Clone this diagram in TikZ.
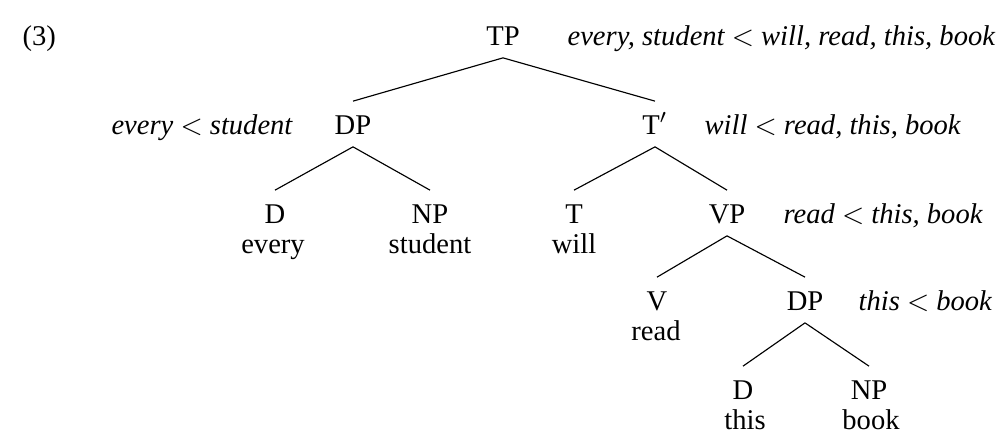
\documentclass[tikz,border=0pt]{standalone}
\usepackage{fontspec}
\setmainfont{Liberation Serif}
\begin{document}
\begin{tikzpicture}[x=0.35pt,y=-0.35pt,
  cat/.style={anchor=base, inner xsep=0pt, inner ysep=4.3pt, text height=7pt, text depth=0pt},
  word/.style={anchor=base, inner sep=0pt},
  ann/.style={inner sep=0pt, font=\itshape},
  branch/.style={line width=0.4pt}]
\useasboundingbox (0,0) rectangle (997,439);
\node[word, anchor=base west] (ex) at (22,45) {(3)};
\node[cat] (tp) at (503,45) {TP};
\node[ann, anchor=base west] (tpl) at (567,45) {every, student $<$ will, read, this, book};
\node[cat] (dp) at (353,134) {DP};
\node[ann, anchor=base east] (dpl) at (293,134) {every $<$ student};
\node[cat] (tb) at (655,134) {T$'$};
\node[ann, anchor=base west] (tbl) at (704,134) {will $<$ read, this, book};
\node[cat] (d1) at (275,223) {D};
\node[word] (w1) at (273,253) {every};
\node[cat] (np1) at (430,223) {NP};
\node[word] (w2) at (430,253) {student};
\node[cat] (t) at (574,223) {T};
\node[word] (w3) at (574,253) {will};
\node[cat] (vp) at (727,223) {VP};
\node[ann, anchor=base west] (vpl) at (783,223) {read $<$ this, book};
\node[cat] (v) at (657,310) {V};
\node[word] (w4) at (656,340) {read};
\node[cat] (dp2) at (805,310) {DP};
\node[ann, anchor=base west] (dp2l) at (858,310) {this $<$ book};
\node[cat] (d2) at (743,399) {D};
\node[word] (w5) at (745,429) {this};
\node[cat] (np2) at (869,399) {NP};
\node[word] (w6) at (871,429) {book};
\draw[branch] (tp.south) -- (dp.north);
\draw[branch] (tp.south) -- (tb.north);
\draw[branch] (dp.south) -- (d1.north);
\draw[branch] (dp.south) -- (np1.north);
\draw[branch] (tb.south) -- (t.north);
\draw[branch] (tb.south) -- (vp.north);
\draw[branch] (vp.south) -- (v.north);
\draw[branch] (vp.south) -- (dp2.north);
\draw[branch] (dp2.south) -- (d2.north);
\draw[branch] (dp2.south) -- (np2.north);
\end{tikzpicture}
\end{document}
